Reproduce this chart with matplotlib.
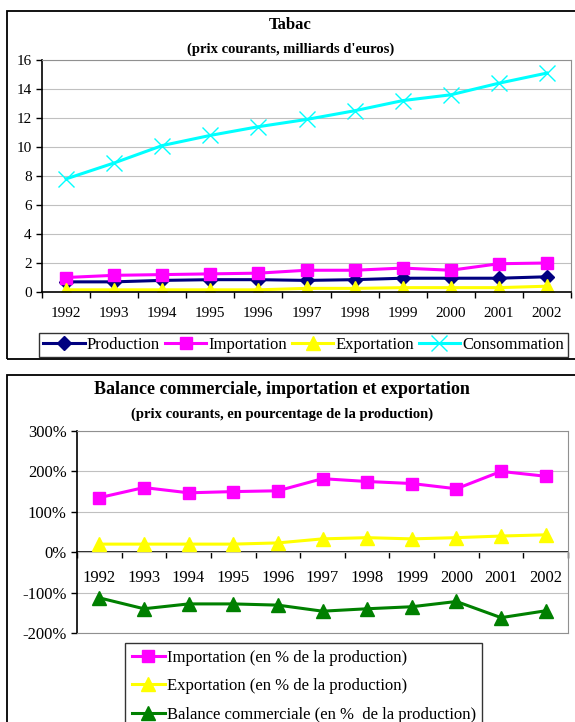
import matplotlib
matplotlib.use("Agg")
import matplotlib.pyplot as plt
from matplotlib.patches import Rectangle

plt.rcParams['font.family'] = ['Liberation Serif', 'DejaVu Serif']

# ------------------- Data -------------------
years = ['1992', '1993', '1994', '1995', '1996', '1997', '1998', '1999', '2000', '2001', '2002']

production = [0.7, 0.7, 0.8, 0.85, 0.85, 0.8, 0.85, 0.95, 0.95, 0.95, 1.05]
importation = [1.0, 1.15, 1.2, 1.25, 1.3, 1.5, 1.5, 1.65, 1.5, 1.95, 2.0]
exportation = [0.15, 0.15, 0.15, 0.15, 0.15, 0.25, 0.25, 0.3, 0.3, 0.3, 0.4]
consommation = [7.8, 8.9, 10.1, 10.8, 11.4, 11.9, 12.5, 13.2, 13.6, 14.4, 15.1]

import_pct = [135, 160, 147, 150, 152, 182, 175, 170, 157, 200, 188]
export_pct = [20, 20, 20, 20, 23, 33, 36, 33, 36, 40, 43]
balance_pct = [-113, -140, -128, -128, -131, -146, -140, -135, -122, -162, -145]

W, H = 575, 722
fig = plt.figure(figsize=(W / 100, H / 100), dpi=100)


def rect(left, top, right, bottom):
    return [left / W, 1 - bottom / H, (right - left) / W, (bottom - top) / H]


# ------------------- Outer boxes -------------------
for top, bottom in [(11, 359), (375, 735)]:
    fig.patches.append(Rectangle((7 / W, 1 - bottom / H), 1, (bottom - top) / H,
                                 transform=fig.transFigure, fill=False,
                                 edgecolor='black', linewidth=1.3, clip_on=False))

x = list(range(len(years)))
grid_kw = dict(color='#c0c0c0', linewidth=0.8)

# ------------------- Top chart: Tabac -------------------
ax1 = fig.add_axes(rect(42, 60, 571, 292))
ax1.plot(x, production, color='#000080', marker='D', markersize=7, linewidth=2.2,
         label='Production')
ax1.plot(x, importation, color='#ff00ff', marker='s', markersize=9, linewidth=2.2,
         label='Importation')
ax1.plot(x, exportation, color='#ffff00', marker='^', markersize=10, linewidth=2.2,
         label='Exportation')
ax1.plot(x, consommation, color='#00ffff', marker='x', markersize=11, markeredgewidth=1,
         linewidth=2.2, label='Consommation')
ax1.set_xlim(-0.5, 10.5)
ax1.set_ylim(0, 16)
ax1.set_yticks(range(0, 17, 2))
ax1.yaxis.grid(True, **grid_kw)
ax1.set_axisbelow(True)
ax1.set_xticks([i - 0.5 for i in range(len(years) + 1)])
ax1.set_xticklabels([])
ax1.set_xticks(x, minor=True)
ax1.set_xticklabels(years, minor=True)
ax1.tick_params(axis='x', which='major', length=4, direction='out', width=1)
ax1.tick_params(axis='x', which='minor', length=0, pad=11, labelsize=11)
ax1.tick_params(axis='y', length=4, width=1, labelsize=11)
for s in ['top', 'right']:
    ax1.spines[s].set_color('#909090')
for s in ['left', 'bottom']:
    ax1.spines[s].set_linewidth(1.2)
fig.text(0.505, 1 - 25 / H, 'Tabac', ha='center', va='center', fontsize=12, fontweight='bold')
fig.text(0.505, 1 - 49 / H, "(prix courants, milliards d'euros)", ha='center', va='center',
         fontsize=10.5, fontweight='bold')
fig.legend(*ax1.get_legend_handles_labels(), loc='center', ncol=4,
           bbox_to_anchor=((41 + 566) / 2 / W, 1 - 345 / H), fontsize=12,
           frameon=True, fancybox=False, edgecolor='black', handlelength=2.5,
           handletextpad=0.1, columnspacing=0.3, borderpad=0.25)

# ------------------- Bottom chart: Balance commerciale -------------------
ax2 = fig.add_axes(rect(77, 431, 568, 633))
ax2.plot(x, import_pct, color='#ff00ff', marker='s', markersize=9, linewidth=2.2,
         label='Importation (en % de la production)')
ax2.plot(x, export_pct, color='#ffff00', marker='^', markersize=10, linewidth=2.2,
         label='Exportation (en % de la production)')
ax2.plot(x, balance_pct, color='#008000', marker='^', markersize=10, linewidth=2.2,
         label='Balance commerciale (en %  de la production)')
ax2.set_xlim(-0.5, 10.5)
ax2.set_ylim(-200, 300)
yt = [-200, -100, 0, 100, 200, 300]
ax2.set_yticks(yt)
ax2.set_yticklabels([f'{v}%' for v in yt])
ax2.yaxis.grid(True, **grid_kw)
ax2.set_axisbelow(True)
ax2.set_xticks([])
ax2.tick_params(axis='y', length=4, width=1, labelsize=12)
for s in ['top', 'right', 'bottom']:
    ax2.spines[s].set_color('#909090')
ax2.spines['left'].set_linewidth(1.2)

sec = ax2.secondary_xaxis(0.4)
sec.spines['bottom'].set_linewidth(1.2)
sec.set_xticks([i - 0.5 for i in range(len(years) + 1)])
sec.set_xticklabels([])
sec.set_xticks(x, minor=True)
sec.set_xticklabels(years, minor=True)
sec.tick_params(axis='x', which='major', length=4, direction='out', width=1)
sec.tick_params(axis='x', which='minor', length=0, pad=13, labelsize=12)

fig.text(0.49, 1 - 390 / H, 'Balance commerciale, importation et exportation',
         ha='center', va='center', fontsize=13, fontweight='bold')
fig.text(0.49, 1 - 414 / H, '(prix courants, en pourcentage de la production)',
         ha='center', va='center', fontsize=10.5, fontweight='bold')
fig.legend(*ax2.get_legend_handles_labels(), loc='upper left',
           bbox_to_anchor=(125 / W, 1 - 643 / H), fontsize=12, frameon=True,
           fancybox=False, edgecolor='black', handlelength=2.0, handletextpad=0.1,
           labelspacing=0.75, borderpad=0.4, borderaxespad=0)

fig.savefig('out.png', dpi=100)
